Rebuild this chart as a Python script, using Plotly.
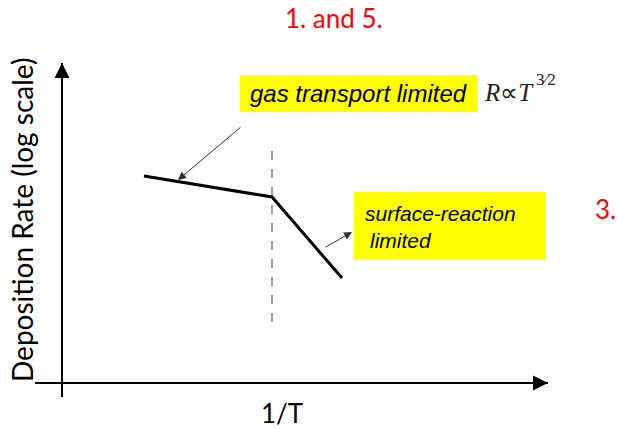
import plotly.graph_objects as go

# Deposition rate vs 1/T (schematic, arbitrary units; log-rate on y)
inv_T = [0.82, 2.10, 2.80]
log_rate = [2.07, 1.86, 1.05]

# Transition between regimes
kink_x = 2.10
kink_span = [0.61, 2.39]

# Axis extents (arbitrary units)
x_axis_span = [-0.27, 4.86]
y_axis_span = [-0.14, 3.20]

# Label boxes [x0, x1, y0, y1]
box_gas = [1.78, 4.15, 2.71, 3.08]
box_surface = [2.92, 4.84, 1.24, 1.91]

# Pointer arrows: (tail x, tail y, tip x, tip y)
ptr_gas = (1.80, 2.57, 1.16, 2.03)
ptr_surface = (2.62, 1.35, 2.90, 1.51)

CAL = "Lato, Carlito, 'Open Sans', sans-serif"
ARIAL = "'Liberation Sans', Arial, sans-serif"
SERIF = "'Liberation Serif', 'Times New Roman', serif"

fig = go.Figure()

# Axes lines
fig.add_trace(go.Scatter(x=x_axis_span, y=[0, 0], mode="lines",
                         line=dict(color="black", width=2), hoverinfo="skip"))
fig.add_trace(go.Scatter(x=[0, 0], y=y_axis_span, mode="lines",
                         line=dict(color="black", width=2), hoverinfo="skip"))

# Dashed transition line
fig.add_trace(go.Scatter(x=[kink_x, kink_x], y=kink_span, mode="lines",
                         line=dict(color="#7f7f7f", width=1.5, dash="dash"),
                         hoverinfo="skip"))

# Rate curve
fig.add_trace(go.Scatter(x=inv_T, y=log_rate, mode="lines",
                         line=dict(color="black", width=3), hoverinfo="skip"))

shapes = []
for b in (box_gas, box_surface):
    shapes.append(dict(type="rect", xref="x", yref="y", x0=b[0], x1=b[1],
                       y0=b[2], y1=b[3], fillcolor="#ffff00",
                       line=dict(width=0), layer="below"))

annotations = []

# Axis arrowheads
annotations.append(dict(x=x_axis_span[1], y=0, ax=x_axis_span[1] - 0.3, ay=0,
                        xref="x", yref="y", axref="x", ayref="y", text="",
                        showarrow=True, arrowhead=2, arrowsize=1.5,
                        arrowwidth=2, arrowcolor="black"))
annotations.append(dict(x=0, y=y_axis_span[1], ax=0, ay=y_axis_span[1] - 0.3,
                        xref="x", yref="y", axref="x", ayref="y", text="",
                        showarrow=True, arrowhead=2, arrowsize=1.5,
                        arrowwidth=2, arrowcolor="black"))

# Pointer arrows
for tx, ty, hx, hy in (ptr_gas, ptr_surface):
    annotations.append(dict(x=hx, y=hy, ax=tx, ay=ty, xref="x", yref="y",
                            axref="x", ayref="y", text="", showarrow=True,
                            arrowhead=2, arrowsize=1.6, arrowwidth=1,
                            arrowcolor="#333333"))

# Box labels
annotations.append(dict(x=(box_gas[0] + box_gas[1]) / 2, y=(box_gas[2] + box_gas[3]) / 2,
                        xref="x", yref="y", text="gas transport limited",
                        showarrow=False, xanchor="center", yanchor="middle",
                        font=dict(family=ARIAL, size=24, color="black", style="italic")))
annotations.append(dict(x=box_surface[0] + 0.09, y=1.70, xref="x", yref="y",
                        text="surface-reaction", showarrow=False,
                        xanchor="left", yanchor="middle",
                        font=dict(family=ARIAL, size=21, color="black", style="italic")))
annotations.append(dict(x=box_surface[0] + 0.14, y=1.43, xref="x", yref="y",
                        text="limited", showarrow=False,
                        xanchor="left", yanchor="middle",
                        font=dict(family=ARIAL, size=21, color="black", style="italic")))

# R ∝ T^(3/2): base and raised exponent
annotations.append(dict(x=4.20, y=2.91, xref="x", yref="y",
                        text="<i>R</i>∝<i>T</i>",
                        showarrow=False, xanchor="left", yanchor="middle",
                        font=dict(family=SERIF, size=25, color="#222222")))
annotations.append(dict(x=4.72, y=3.04, xref="x", yref="y", text="3⁄2",
                        showarrow=False, xanchor="left", yanchor="middle",
                        font=dict(family=SERIF, size=17, color="#222222")))

# Axis titles
annotations.append(dict(x=2.20, y=-0.30, xref="x", yref="y", text="1/T",
                        showarrow=False, xanchor="center", yanchor="middle",
                        font=dict(family=CAL, size=26, color="black")))
annotations.append(dict(x=-0.40, y=1.63, xref="x", yref="y",
                        text="Deposition Rate (log scale)", textangle=-90,
                        showarrow=False, xanchor="center", yanchor="middle",
                        font=dict(family=CAL, size=28, color="black")))

# Red slide notes
annotations.append(dict(x=2.72, y=3.65, xref="x", yref="y", text="1. and 5.",
                        showarrow=False, xanchor="center", yanchor="middle",
                        font=dict(family=CAL, size=26, color="#ff0000")))
annotations.append(dict(x=5.43, y=1.74, xref="x", yref="y", text="3.",
                        showarrow=False, xanchor="center", yanchor="middle",
                        font=dict(family=CAL, size=26, color="#ff0000")))

fig.update_layout(
    width=617, height=429,
    margin=dict(l=0, r=0, t=0, b=0),
    paper_bgcolor="white", plot_bgcolor="white",
    showlegend=False,
    xaxis=dict(range=[-0.62, 5.55], visible=False, fixedrange=True),
    yaxis=dict(range=[-0.46, 3.83], visible=False, fixedrange=True),
    shapes=shapes, annotations=annotations,
)

fig.write_html("out.html")
